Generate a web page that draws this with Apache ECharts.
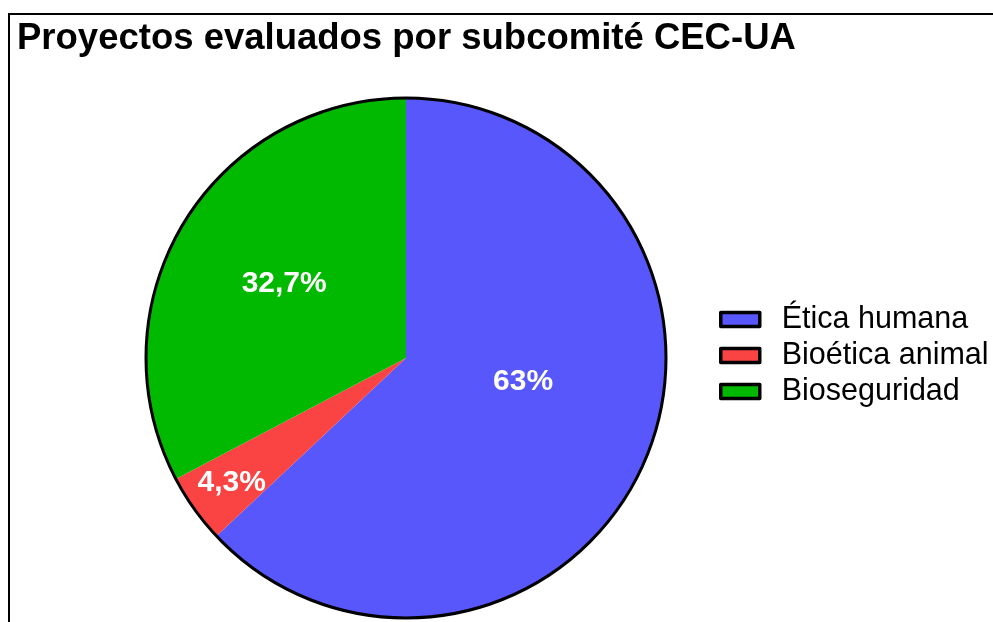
<!DOCTYPE html>
<html>
<head>
<meta charset="utf-8">
<script src="https://cdn.jsdelivr.net/npm/echarts@6/dist/echarts.min.js"></script>
<style>html,body{margin:0;padding:0;background:#fff;}#c{width:993px;height:622px;}</style>
</head>
<body>
<div id="c"></div>
<script>
const titleText = 'Proyectos evaluados por subcomité CEC-UA';
const categories = ['Ética humana', 'Bioética animal', 'Bioseguridad'];
const values = [63, 4.3, 32.7];
const colors = ['#5757FB', '#FA4444', '#00B900'];
const labelOffsets = [[-5, -29], [-66, 48], [-8, -5]];

const chart = echarts.init(document.getElementById('c'), null, {renderer: 'canvas'});
const fmt = v => String(v).replace('.', ',') + '%';
chart.setOption({
  backgroundColor: '#fff',
  animation: false,
  title: {
    text: titleText, left: 12, top: 20, padding: [0, 5],
    textStyle: {fontFamily: 'Liberation Sans', fontWeight: 'bold', fontSize: 36.5, color: '#000'}
  },
  legend: {
    orient: 'vertical', left: 719, top: 304, padding: 0, itemWidth: 39, itemHeight: 14, itemGap: 5,
    data: categories,
    icon: 'rect',
    itemStyle: {borderColor: '#000', borderWidth: 3.5},
    textStyle: {fontFamily: 'Liberation Sans', fontSize: 30.5, lineHeight: 30.5, color: '#000', padding: [0, 0, 0, 17]}
  },
  graphic: [{type: 'rect', shape: {x: 9, y: 14, width: 1100, height: 700}, style: {fill: 'none', stroke: '#000', lineWidth: 2}, silent: true}],
  series: [{
    type: 'pie', center: [406, 358], radius: [0, 260], startAngle: 90, clockwise: true,
    data: categories.map((n, i) => ({name: n, value: values[i], itemStyle: {color: colors[i]}, label: {offset: labelOffsets[i]}})),
    label: {position: 'inside', formatter: p => fmt(p.value), color: '#fff', fontFamily: 'Liberation Sans', fontWeight: 'bold', fontSize: 30},
    labelLine: {show: false},
    itemStyle: {borderWidth: 0}
  }, {
    type: 'pie', center: [406, 358], radius: [0, 260], silent: true, z: 5,
    data: [{name: '_ring', value: 1, itemStyle: {color: 'rgba(0,0,0,0)', borderColor: '#000', borderWidth: 3}}],
    label: {show: false}, labelLine: {show: false}, legendHoverLink: false
  }]
});
</script>
</body>
</html>
